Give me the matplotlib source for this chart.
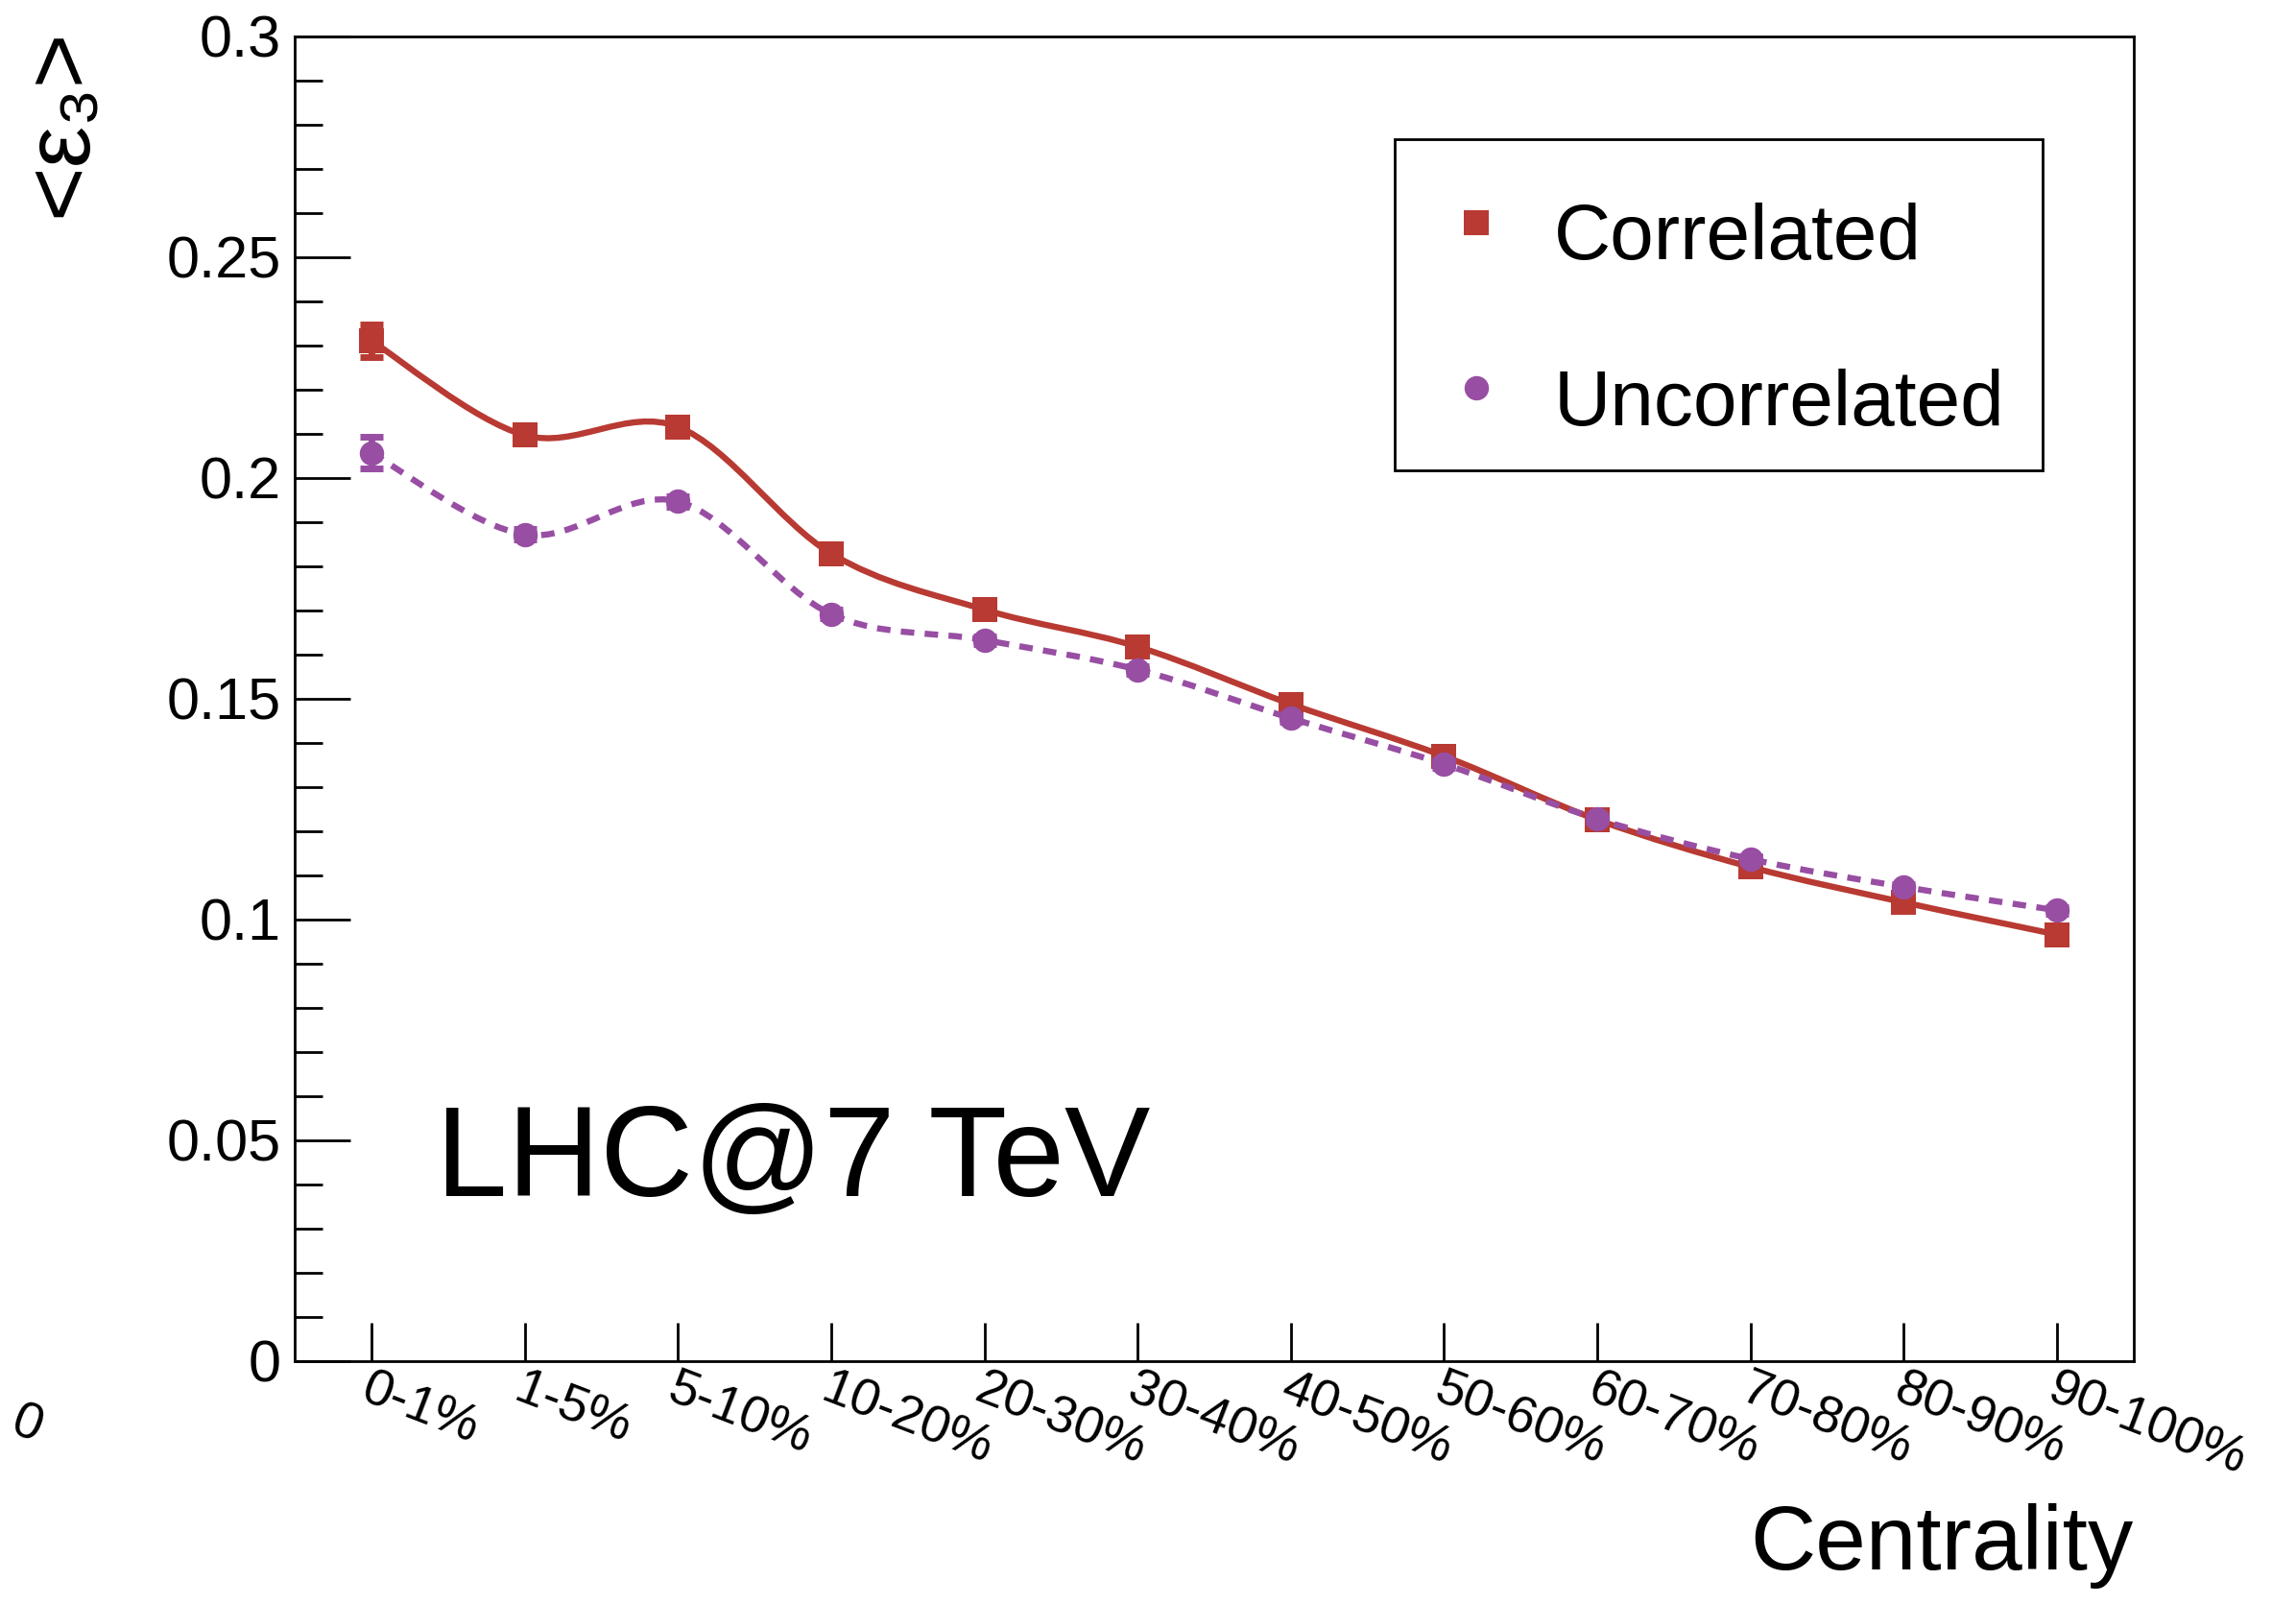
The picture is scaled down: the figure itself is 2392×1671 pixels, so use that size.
import numpy as np
import matplotlib
matplotlib.use('Agg')
import matplotlib.pyplot as plt
from matplotlib.path import Path
from matplotlib.patches import PathPatch, Rectangle
from matplotlib.lines import Line2D
from matplotlib.transforms import ScaledTranslation

plt.rcParams['font.family'] = ['Liberation Sans', 'DejaVu Sans']

# data
centrality = ['0-1%', '1-5%', '5-10%', '10-20%', '20-30%', '30-40%',
              '40-50%', '50-60%', '60-70%', '70-80%', '80-90%', '90-100%']
corr = [0.2311, 0.2097, 0.2116, 0.1829, 0.1702, 0.1618,
        0.1488, 0.1370, 0.1226, 0.1119, 0.1039, 0.0966]
corr_err = [0.0036, 0.0012, 0.0012, 0.0010, 0.0009, 0.0009,
            0.0008, 0.0008, 0.0007, 0.0007, 0.0007, 0.0007]
uncorr = [0.2057, 0.1872, 0.1947, 0.1692, 0.1633, 0.1566,
          0.1456, 0.1352, 0.1228, 0.1137, 0.1074, 0.1021]
uncorr_err = [0.0036, 0.0012, 0.0012, 0.0010, 0.0009, 0.0009,
              0.0008, 0.0008, 0.0007, 0.0007, 0.0007, 0.0007]
yticks = [0, 0.05, 0.1, 0.15, 0.2, 0.25, 0.3]
ytick_labels = ['0', '0.05', '0.1', '0.15', '0.2', '0.25', '0.3']
series_names = ['Correlated', 'Uncorrelated']

RED = '#b83a32'
PURPLE = '#984ea3'
W, H = 2392, 1671
MS = 18.3


def smooth_path(xs, ys):
    # smooth curve through the points (like ROOT's "C" draw option)
    pts = np.column_stack([np.asarray(xs, float), np.asarray(ys, float)])
    n = len(pts)
    verts = [pts[0]]
    codes = [Path.MOVETO]
    for i in range(n - 1):
        p0 = pts[max(i - 1, 0)]
        p1 = pts[i]
        p2 = pts[i + 1]
        p3 = pts[min(i + 2, n - 1)]
        verts += [p1 + (p2 - p0) / 6, p2 - (p3 - p1) / 6, p2]
        codes += [Path.CURVE4] * 3
    return Path(verts, codes)


def fx(px):
    return px / W


def fy(py):
    return 1 - py / H


fig = plt.figure(figsize=(W / 100, H / 100), dpi=100)
ax = fig.add_axes([fx(307), fy(1418), (2223 - 307) / W, (1418 - 38) / H])
x = np.arange(len(centrality))

# correlated
ax.add_patch(PathPatch(smooth_path(x, corr), fill=False, edgecolor=RED,
                       lw=4.6, capstyle='butt', zorder=2))
ax.errorbar(x, corr, yerr=corr_err, fmt='none', ecolor=RED, elinewidth=5,
            capsize=8.6, capthick=5, zorder=2.5)
ax.plot(x, corr, 's', color=RED, ms=MS, mew=0, zorder=3)

# uncorrelated
ax.add_patch(PathPatch(smooth_path(x, uncorr), fill=False, edgecolor=PURPLE,
                       lw=4.6, linestyle=(0, (2.2, 1.7)), capstyle='butt',
                       zorder=4))
ax.errorbar(x, uncorr, yerr=uncorr_err, fmt='none', ecolor=PURPLE,
            elinewidth=5, capsize=8.6, capthick=5, zorder=4.5)
ax.plot(x, uncorr, 'o', color=PURPLE, ms=MS, mew=0, zorder=5)

ax.set_xlim(-0.5, 11.5)
ax.set_ylim(0, 0.3)

for s in ax.spines.values():
    s.set_linewidth(2)

ax.set_yticks(yticks, ytick_labels)
ax.set_yticks(np.arange(0, 0.3001, 0.01), minor=True)
ax.tick_params(axis='y', which='major', direction='in', length=41.8, width=2,
               pad=10, labelsize=44)
ax.tick_params(axis='y', which='minor', direction='in', length=20.9, width=2)

ax.set_xticks(x, centrality)
ax.tick_params(axis='x', which='major', direction='in', length=28.8, width=2,
               pad=0, labelsize=39)
ax.tick_params(axis='x', which='minor', bottom=False)
shift = ScaledTranslation(1 / 100, -4 / 100, fig.dpi_scale_trans)
for lab in ax.get_xticklabels():
    lab.set_rotation(-21)
    lab.set_rotation_mode('anchor')
    lab.set_ha('left')
    lab.set_va('top')
    lab.set_transform(lab.get_transform() + shift)

# legend box (ROOT TLegend style)
fig.add_artist(Rectangle((fx(1453), fy(490)), (2128 - 1453) / W,
                         (490 - 145) / H, transform=fig.transFigure,
                         facecolor='white', edgecolor='black', lw=2,
                         zorder=6))
for marker, color, my, ty, name in [('s', RED, 231.5, 270, series_names[0]),
                                     ('o', PURPLE, 404, 443, series_names[1])]:
    fig.add_artist(Line2D([fx(1538)], [fy(my)], transform=fig.transFigure,
                          ls='none', marker=marker, ms=MS, mew=0,
                          color=color, zorder=7))
    fig.text(fx(1619), fy(ty), name, fontsize=59, va='baseline', zorder=7)

# texts
fig.text(fx(454), fy(1246), 'LHC@7 TeV', fontsize=96.5, va='baseline')
fig.text(fx(2223), fy(1635), 'Centrality', fontsize=68, ha='right',
         va='baseline')
fig.text(fx(19), fy(30), '<ε\u2083>', rotation=90, ha='left', va='top',
         fontsize=70)
fig.text(fx(23), fy(1456), '0', rotation=-21, rotation_mode='anchor',
         ha='left', va='top', fontsize=39)

fig.savefig('out.png', dpi=100)
